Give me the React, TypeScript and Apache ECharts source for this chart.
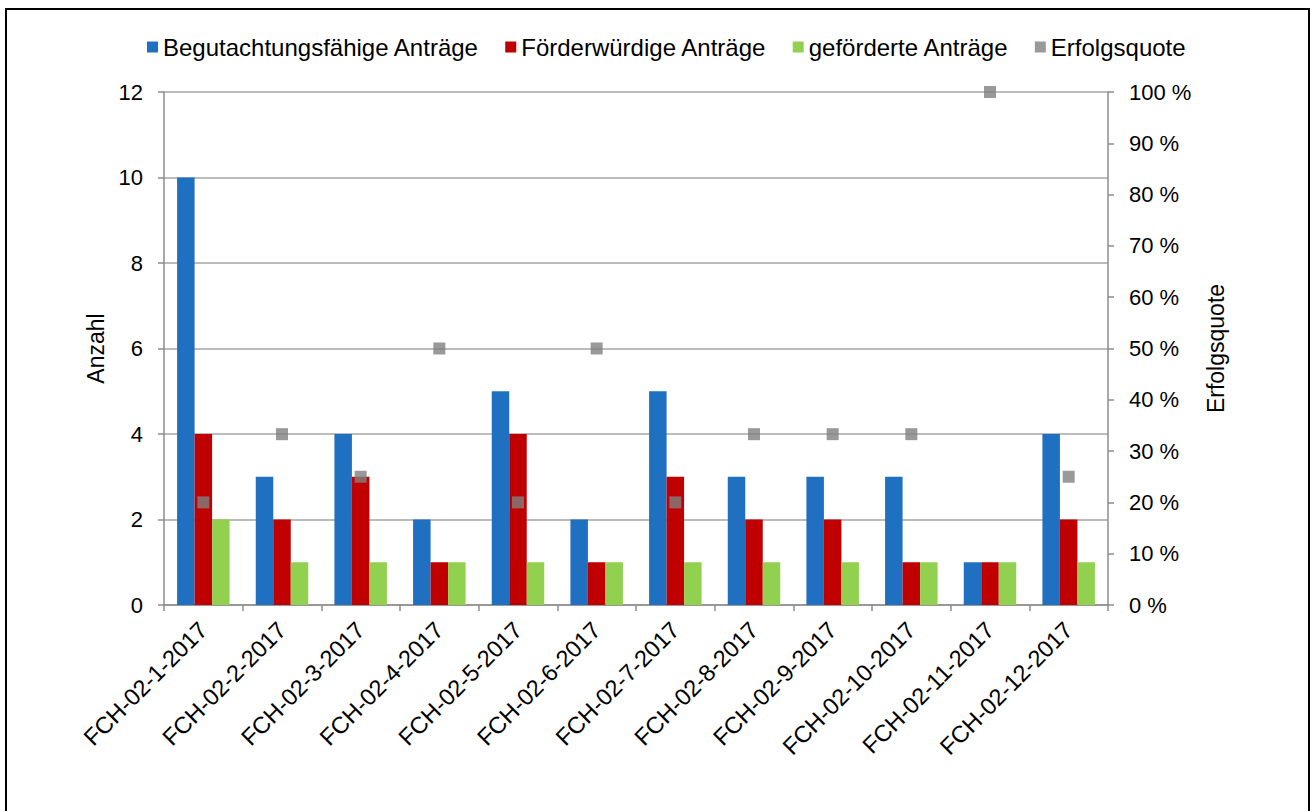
import React, { useEffect, useRef } from "react";
import * as echarts from "echarts";

const categories = [
  "FCH-02-1-2017", "FCH-02-2-2017", "FCH-02-3-2017", "FCH-02-4-2017",
  "FCH-02-5-2017", "FCH-02-6-2017", "FCH-02-7-2017", "FCH-02-8-2017",
  "FCH-02-9-2017", "FCH-02-10-2017", "FCH-02-11-2017", "FCH-02-12-2017",
];
const begutachtungsfaehige = [10, 3, 4, 2, 5, 2, 5, 3, 3, 3, 1, 4];
const foerderwuerdige = [4, 2, 3, 1, 4, 1, 3, 2, 2, 1, 1, 2];
const gefoerderte = [2, 1, 1, 1, 1, 1, 1, 1, 1, 1, 1, 1];
const erfolgsquote = [20, 33.3, 25, 50, 20, 50, 20, 33.3, 33.3, 33.3, 100, 25];

const FONT = "'Liberation Sans', Arial, sans-serif";
const AXIS_GRAY = "#8c8c8c";

export default function App() {
  const ref = useRef<HTMLDivElement>(null);
  useEffect(() => {
    if (!ref.current) return;
    const chart = echarts.init(ref.current, undefined, { renderer: "svg" });
    const barCommon = {
      type: "bar" as const,
      barWidth: 17.5,
      barGap: "0%",
      barCategoryGap: "34%",
    };
    chart.setOption({
      animation: false,
      textStyle: { fontFamily: FONT },
      graphic: [
        {
          type: "rect",
          shape: { x: 6, y: 9, width: 1303, height: 900 },
          style: { fill: "none", stroke: "#000", lineWidth: 2 },
          silent: true,
        },
      ],
      legend: {
        top: 30,
        left: 142,
        itemWidth: 11,
        itemHeight: 11,
        itemGap: 26,
        icon: "rect",
        textStyle: { fontFamily: FONT, fontSize: 24, color: "#000" },
        data: [
          "Begutachtungsfähige Anträge",
          "Förderwürdige Anträge",
          "geförderte Anträge",
          "Erfolgsquote",
        ],
      },
      grid: { left: 164, right: 206, top: 92, bottom: 206, containLabel: false },
      xAxis: {
        type: "category",
        data: categories,
        boundaryGap: true,
        axisLine: { lineStyle: { color: AXIS_GRAY, width: 1.5 } },
        axisTick: { show: true, length: 6, alignWithLabel: false, lineStyle: { color: AXIS_GRAY, width: 1.5 } },
        axisLabel: {
          rotate: 45,
          interval: 0,
          margin: 21,
          fontFamily: FONT,
          fontSize: 23.5,
          color: "#000",
        },
      },
      yAxis: [
        {
          type: "value",
          min: 0,
          max: 12,
          interval: 2,
          name: "Anzahl",
          nameLocation: "middle",
          nameRotate: 90,
          nameGap: 56,
          nameTextStyle: { fontFamily: FONT, fontSize: 23, color: "#000" },
          axisLine: { show: true, lineStyle: { color: AXIS_GRAY, width: 1.5 } },
          axisTick: { show: true, length: 6, lineStyle: { color: AXIS_GRAY, width: 1.5 } },
          axisLabel: { margin: 21, fontFamily: FONT, fontSize: 22, color: "#000" },
          splitLine: { show: true, lineStyle: { color: "#a6a6a6", width: 1.5 } },
        },
        {
          type: "value",
          position: "right",
          min: 0,
          max: 100,
          interval: 10,
          name: "Erfolgsquote",
          nameLocation: "middle",
          nameRotate: 90,
          nameGap: 96,
          nameTextStyle: { fontFamily: FONT, fontSize: 23, color: "#000" },
          axisLine: { show: true, lineStyle: { color: AXIS_GRAY, width: 1.5 } },
          axisTick: { show: true, length: 6, lineStyle: { color: AXIS_GRAY, width: 1.5 } },
          axisLabel: {
            margin: 21,
            fontFamily: FONT,
            fontSize: 22,
            color: "#000",
            formatter: (v: number) => `${v} %`,
          },
          splitLine: { show: false },
        },
      ],
      series: [
        {
          ...barCommon,
          name: "Begutachtungsfähige Anträge",
          data: begutachtungsfaehige,
          itemStyle: { color: "#1f70c1" },
        },
        {
          ...barCommon,
          name: "Förderwürdige Anträge",
          data: foerderwuerdige,
          itemStyle: { color: "#c00000" },
        },
        {
          ...barCommon,
          name: "geförderte Anträge",
          data: gefoerderte,
          itemStyle: { color: "#92d050" },
        },
        {
          type: "scatter",
          name: "Erfolgsquote",
          yAxisIndex: 1,
          data: erfolgsquote,
          symbol: "rect",
          symbolSize: 12,
          itemStyle: { color: "#808080" },
          z: 5,
        },
      ],
    });
    return () => chart.dispose();
  }, []);
  return (
    <div
      ref={ref}
      style={{ position: "fixed", left: 0, top: 0, width: 1314, height: 811, background: "#fff" }}
    />
  );
}
